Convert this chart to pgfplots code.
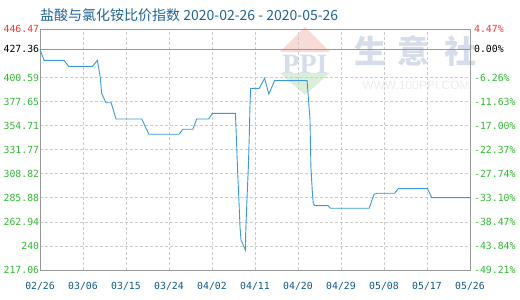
\documentclass[border=0pt]{standalone}
\usepackage{pgfplots}
\pgfplotsset{compat=1.18}
\usepackage{fontspec}
\setmainfont{DejaVu Sans}
\setmonofont{DejaVu Sans Mono}
\newfontfamily\cjk{Noto Sans CJK SC}
\newfontfamily\logofont{Liberation Serif}
\newfontfamily\urlfont{Liberation Sans}

\definecolor{titleblue}{HTML}{1F6496}
\definecolor{datelabel}{HTML}{0E5A8A}
\definecolor{valgreen}{HTML}{33B833}
\definecolor{valred}{HTML}{FF3333}
\definecolor{linecol}{HTML}{3A9AD8}
\definecolor{gridgray}{HTML}{CCCCCC}
\definecolor{framegray}{HTML}{999999}
\definecolor{wmred}{HTML}{F8DAD6}
\definecolor{wmgreen}{HTML}{DAEFDA}
\definecolor{wmblue}{HTML}{D6DDEA}
\definecolor{wmgray}{HTML}{ECECEC}

\newcommand{\labfont}{\ttfamily\fontsize{9.8}{10}\selectfont}

% ratio index, x = days since 2020-02-26
\pgfplotstableread{
day value
0     427.36
0.84  416.9
5     416.9
6     411.2
11    411.2
12    416.9
12.6  401.3
12.9  385.5
13.8  376.5
14.9  376.5
15.9  361.0
21.3  361.0
22.8  346.4
29.1  346.4
29.9  351.2
32    351.2
32.8  361.0
35.3  361.0
36.1  366.4
40.9  366.4
41    355.3
41.2  331.4
41.4  307.6
41.65 282.2
41.86 258.4
42.07 245.7
43    236.1
43.05 252.1
43.3  282.2
43.6  314.0
43.8  344.1
43.95 374.3
44.1  390.2
45.9  390.2
47    399.8
47.9  384.8
49.1  397.5
55.9  397.5
56.5  361.6
56.6  339.4
56.7  315.5
57    291.7
57.2  280.0
57.6  278.4
60.3  278.4
60.8  275.9
68.9  275.9
69.9  289.2
70.6  290.2
74.2  290.2
75    294.6
81.1  294.6
82    286.0
90    286.0
}\ratiodata

\begin{document}
\begin{tikzpicture}
% watermark
\fill[wmred] (265pt,243pt) -- (240pt,218pt) -- (290pt,218pt) -- cycle;
\fill[wmgreen] (240pt,197pt) -- (290pt,197pt) -- (265pt,175pt) -- cycle;
\node[wmblue, font=\logofont\bfseries\fontsize{28}{28}\selectfont] at (265pt,206pt) {PPI};
\node[wmblue, font=\cjk\bfseries\fontsize{32}{32}\selectfont] at (330pt,219pt) {生};
\node[wmblue, font=\cjk\bfseries\fontsize{32}{32}\selectfont] at (373pt,219pt) {意};
\node[wmblue, font=\cjk\bfseries\fontsize{32}{32}\selectfont] at (420pt,219pt) {社};
\node[wmgray, font=\urlfont\fontsize{12}{12}\selectfont] at (376pt,185pt) {WWW.100PPI.COM};

\begin{axis}[
  scale only axis, width=430pt, height=240.7pt,
  xmin=0, xmax=90, ymin=217.06, ymax=446.47,
  xtick={0,9,...,90},
  xticklabels={02/26,03/06,03/15,03/24,04/02,04/11,04/20,04/29,05/08,05/17,05/26},
  ytick={217.06,240,262.94,285.88,308.82,331.77,354.71,377.65,400.59,427.36,446.47},
  yticklabels={\textcolor{valgreen}{217.06},\textcolor{valgreen}{240},\textcolor{valgreen}{262.94},
    \textcolor{valgreen}{285.88},\textcolor{valgreen}{308.82},\textcolor{valgreen}{331.77},
    \textcolor{valgreen}{354.71},\textcolor{valgreen}{377.65},\textcolor{valgreen}{400.59},
    \textcolor{black}{427.36},\textcolor{valred}{446.47}},
  grid=major,
  major grid style={gridgray, dash pattern=on 3pt off 2pt, line width=0.6pt},
  axis line style={framegray, line width=0.8pt},
  major tick length=0pt,
  tick style={draw=none},
  yticklabel style={font=\labfont, anchor=east, inner sep=0pt, xshift=-0.7pt},
  xticklabel style={font=\labfont, text=datelabel, anchor=north, inner sep=0pt, yshift=-12.5pt},
  clip=false,
]
\draw[framegray, line width=0.8pt] (axis cs:0,427.36) -- (axis cs:90,427.36);
\addplot[linecol, line width=0.9pt, mark=none] table[x=day, y=value] {\ratiodata};
\end{axis}

\begin{axis}[
  scale only axis, width=430pt, height=240.7pt,
  xmin=0, xmax=90, ymin=217.06, ymax=446.47,
  axis x line=none, axis y line*=right,
  ytick={217.06,240,262.94,285.88,308.82,331.77,354.71,377.65,400.59,427.36,446.47},
  yticklabels={\textcolor{valgreen}{-49.21\%},\textcolor{valgreen}{-43.84\%},\textcolor{valgreen}{-38.47\%},
    \textcolor{valgreen}{-33.10\%},\textcolor{valgreen}{-27.74\%},\textcolor{valgreen}{-22.37\%},
    \textcolor{valgreen}{-17.00\%},\textcolor{valgreen}{-11.63\%},\textcolor{valgreen}{-6.26\%},
    \textcolor{black}{0.00\%},\textcolor{valred}{4.47\%}},
  axis line style={framegray, line width=0.8pt},
  major tick length=0pt,
  tick style={draw=none},
  yticklabel style={font=\labfont, anchor=west, inner sep=0pt, xshift=4pt},
]
\end{axis}

\node[anchor=west, inner sep=0pt, text=titleblue, font=\cjk\fontsize{14}{15}\selectfont]
  at (0pt,255pt) {盐酸与氯化铵比价指数 2020-02-26 - 2020-05-26};

\pgfresetboundingbox
\useasboundingbox (-40pt,-30pt) rectangle (480pt,270pt);
\end{tikzpicture}
\end{document}
